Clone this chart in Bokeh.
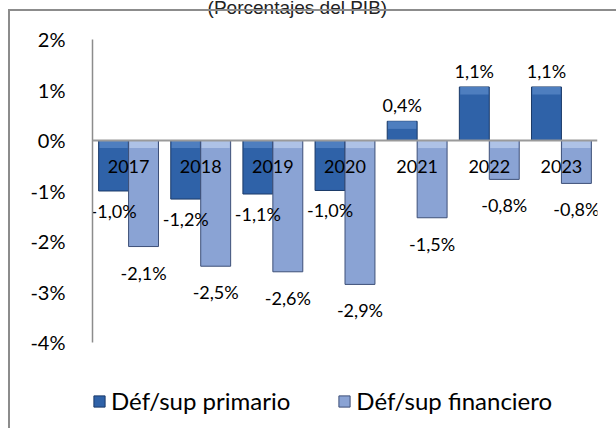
from bokeh.plotting import figure
from bokeh.models import (ColumnDataSource, FactorRange, Range1d, FixedTicker,
                          PrintfTickFormatter, Span, Label, Legend, LegendItem,
                          InlineStyleSheet)
from bokeh.transform import dodge
from bokeh.core.properties import value
from bokeh.embed import file_html
from bokeh.resources import INLINE

# ---- data (percent of GDP) ----
years = ["2017", "2018", "2019", "2020", "2021", "2022", "2023"]
primario = [-1.0, -1.16, -1.06, -0.99, 0.38, 1.06, 1.06]
financiero = [-2.10, -2.49, -2.60, -2.85, -1.53, -0.77, -0.85]
y_ticks = [-4, -3, -2, -1, 0, 1, 2]
title_text = "(Porcentajes del PIB)"
series_names = ["Déf/sup primario", "Déf/sup financiero"]

def fmt(v):
    return ("%.1f%%" % v).replace(".", ",")

def offs(vals, neg_off, pos_off):
    return [neg_off if v < 0 else pos_off for v in vals]

BEVEL = 0.15
src = ColumnDataSource(dict(
    year=years,
    prim=primario,
    fin=financiero,
    prim_top=[max(v, 0) for v in primario],
    prim_bev=[max(v, 0) - min(BEVEL, abs(v)) for v in primario],
    fin_top=[max(v, 0) for v in financiero],
    fin_bev=[max(v, 0) - min(BEVEL, abs(v)) for v in financiero],
    prim_lbl=[fmt(v) for v in primario],
    fin_lbl=[fmt(v) for v in financiero],
    prim_off=offs(primario, 20, -16),
    fin_off=offs(financiero, 26, -16),
    zero=[0] * len(years),
))

FONT = "Lato"
W, H = 616, 428

p = figure(x_range=FactorRange(factors=years, range_padding=0),
           y_range=Range1d(-5.545, 2.9307),
           width=W, height=H, output_backend="svg", toolbar_location=None,
           min_border_left=100, min_border_right=11, min_border_top=0,
           min_border_bottom=0)
p.styles = {"margin": "-8px"}
p.stylesheets = [InlineStyleSheet(css="""
:host::before {
  content: "";
  position: absolute;
  left: 16px; top: 17px; width: 2000px; height: 2000px;
  border-top: 2px solid #8c8c8c; border-left: 2px solid #8c8c8c;
  z-index: 100; pointer-events: none;
}
""")]
p.outline_line_color = None
p.xgrid.grid_line_color = None
p.ygrid.grid_line_color = None
p.background_fill_color = "white"
p.border_fill_color = "white"
p.xaxis.visible = False

ya = p.yaxis[0]
ya.bounds = (min(y_ticks), max(y_ticks))
ya.ticker = FixedTicker(ticks=y_ticks)
ya.formatter = PrintfTickFormatter(format="%d%%")
ya.major_tick_line_color = None
ya.minor_tick_line_color = None
ya.major_tick_out = 0
ya.major_tick_in = 0
ya.axis_line_color = "#8c8c8c"
ya.axis_line_width = 1.5
ya.major_label_standoff = 27
ya.major_label_text_font = FONT
ya.major_label_text_font_size = "20px"
ya.major_label_text_color = "black"

bw = 0.415
off = bw / 2
xp = dodge("year", -off, range=p.x_range)
xf = dodge("year", off, range=p.x_range)
r1 = p.vbar(x=xp, top="prim", bottom=0, width=bw,
            source=src, fill_color="#2F62A8", line_color="#1B3A68", line_width=1)
r2 = p.vbar(x=xf, top="fin", bottom=0, width=bw,
            source=src, fill_color="#8AA3D4", line_color="#3E5078", line_width=1)
# bevel highlight at the top of each bar
p.vbar(x=xp, top="prim_top", bottom="prim_bev", width=bw * 0.94, source=src,
       fill_color="#4E7EBF", line_color=None)
p.vbar(x=xf, top="fin_top", bottom="fin_bev", width=bw * 0.94, source=src,
       fill_color="#AEC2E6", line_color=None)

p.add_layout(Span(location=0, dimension="width", line_color="#9a9a9a", line_width=2))

# category labels inside the plot
p.text(x="year", y="zero", text="year", source=src, y_offset=26,
       text_align="center", text_baseline="middle",
       text_font=value(FONT), text_font_size="18px", text_color="black")

# data labels
p.text(x=xp, y="prim", text="prim_lbl", source=src,
       y_offset="prim_off", text_align="center", text_baseline="middle",
       text_font=value(FONT), text_font_size="18px", text_color="black")
p.text(x=xf, y="fin", text="fin_lbl", source=src,
       y_offset="fin_off", text_align="center", text_baseline="middle",
       text_font=value(FONT), text_font_size="18px", text_color="black")

# title (cut off at the top in the original)
p.add_layout(Label(x=2.84, y=2.634, text=title_text, text_align="center",
                   text_baseline="alphabetic", text_font="Liberation Sans",
                   text_font_size="19px", text_color="#222222"))

legend = Legend(items=[LegendItem(label=series_names[0], renderers=[r1]),
                       LegendItem(label=series_names[1], renderers=[r2])],
                orientation="horizontal", location=(0, 5),
                padding=0, margin=0, spacing=47, border_line_color=None,
                background_fill_alpha=0, glyph_width=14, glyph_height=14,
                label_standoff=5, label_text_font=FONT,
                label_text_font_size="24px", label_text_color="black")
p.add_layout(legend)

open("out.html", "w").write(file_html(p, INLINE))
